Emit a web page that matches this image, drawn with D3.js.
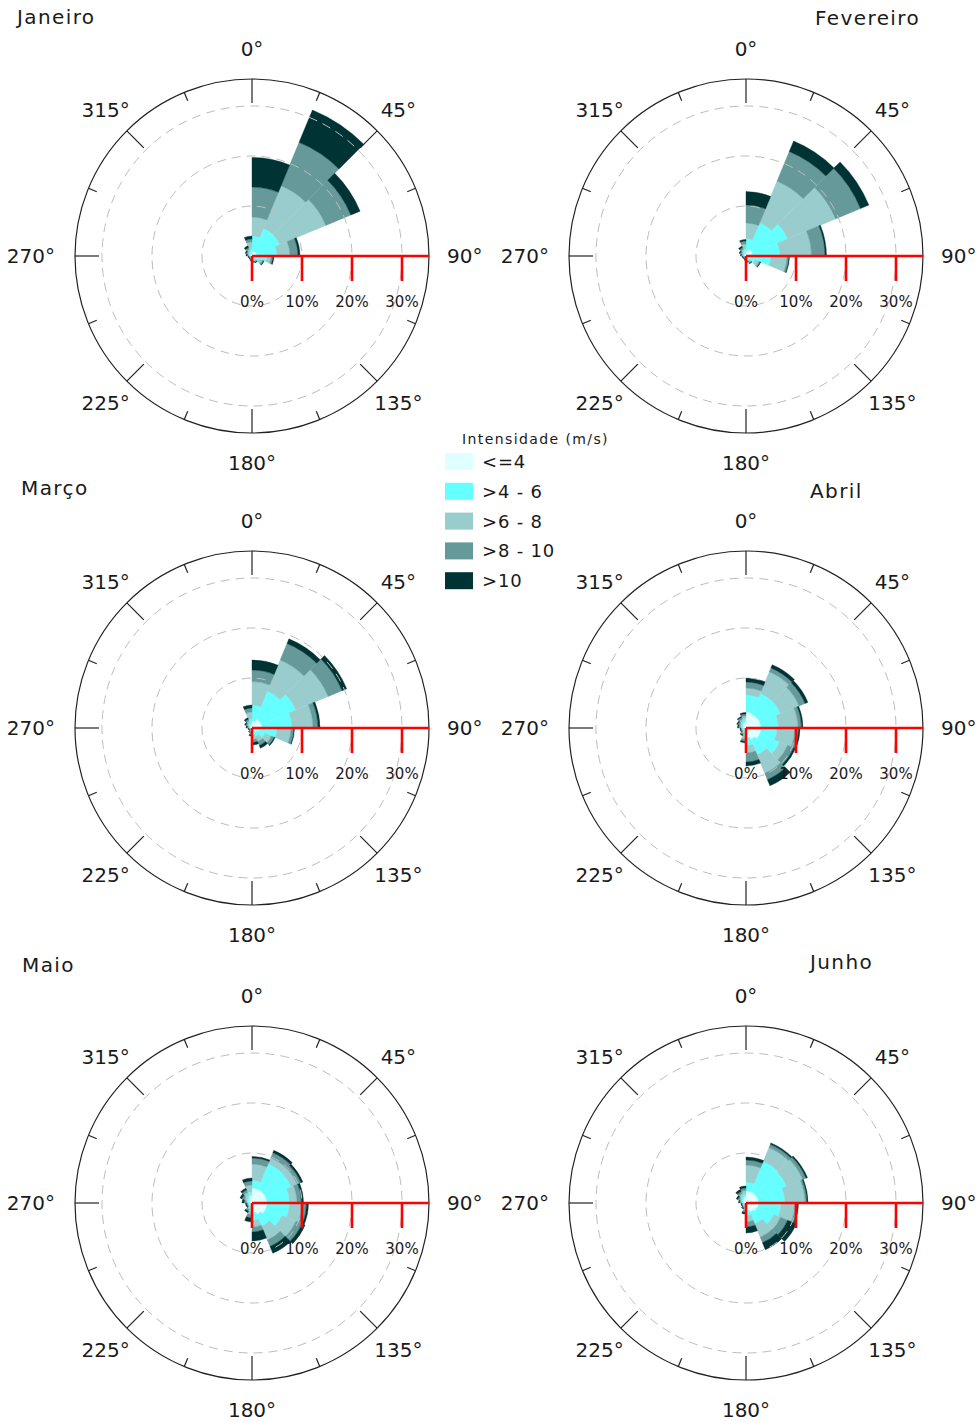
<!DOCTYPE html>
<html>
<head>
<meta charset="utf-8">
<script src="https://cdn.jsdelivr.net/npm/d3@7"></script>
<style>
  body { margin: 0; background: #fff; }
  svg { display: block; }
  text { font-family: "DejaVu Sans", Verdana, sans-serif; fill: #1a1a1a; }
</style>
</head>
<body>
<svg id="chart" width="979" height="1422"></svg>
<script>
// Wind speed classes (m/s) and their colours
const classLabels = ["<=4", ">4 - 6", ">6 - 8", ">8 - 10", ">10"];
const classColors = ["#e0ffff", "#66ffff", "#99cccc", "#669999", "#003333"];

// Direction labels (degrees) and radial frequency ticks (%)
const directionLabels = [0, 45, 90, 135, 180, 225, 270, 315];
const radialTicks = [0, 10, 20, 30];

const monthNames = ["Janeiro", "Fevereiro", "Março", "Abril", "Maio", "Junho"];

// Frequency (%) per direction sector (16 sectors of 22.5°, clockwise from north),
// one column per speed class: [<=4, >4-6, >6-8, >8-10, >10]
const janeiro = [
  [1, 3, 3.8, 6, 5.9], [1, 5, 9.2, 9.4, 7], [1, 5, 10, 5.4, 2], [1, 4, 2.6, 1.6, 0.4],
  [0.8, 2.2, 0.8, 0.4, 0.2], [0.5, 1, 0.7, 0.3, 0.1], [0.4, 0.4, 0.4, 0.2, 0.1], [0.4, 0.3, 0.3, 0.2, 0.1],
  [0.3, 0.2, 0.2, 0.2, 0.1], [0.3, 0.2, 0.1, 0.1, 0.1], [0.3, 0.1, 0.1, 0.1, 0.1], [0.3, 0.2, 0.1, 0.1, 0.1],
  [0.4, 0.2, 0.2, 0.2, 0.2], [0.4, 0.3, 0.3, 0.3, 0.2], [0.5, 0.4, 0.5, 0.4, 0.4], [0.5, 1, 1.3, 0.6, 0.6]
];
const fevereiro = [
  [1, 2.5, 3.1, 3.6, 2.7], [1.5, 5.7, 9, 6.4, 2.3], [1.5, 7.5, 10.4, 5.4, 1.8], [1.2, 5.6, 6.3, 2.7, 0.3],
  [1, 4, 3.2, 0.4, 0.1], [0.7, 1.3, 0.8, 0.3, 0.1], [0.5, 0.5, 0.4, 0.2, 0.1], [0.4, 0.3, 0.3, 0.2, 0.1],
  [0.3, 0.2, 0.2, 0.1, 0.1], [0.3, 0.1, 0.1, 0.1, 0.1], [0.3, 0.1, 0.1, 0.1, 0.1], [0.3, 0.1, 0.2, 0.1, 0.1],
  [0.4, 0.2, 0.2, 0.2, 0.1], [0.4, 0.3, 0.3, 0.3, 0.2], [0.5, 0.5, 0.4, 0.4, 0.3], [0.6, 0.8, 1, 0.6, 0.3]
];
const marco = [
  [1.5, 3.1, 4.7, 2.3, 2.0], [2, 6, 6.7, 3.6, 1.0], [2, 7.5, 7, 3, 1], [2, 6, 4.2, 1, 0.4],
  [1.5, 3.5, 2.8, 0.6, 0.1], [1, 1.8, 1.4, 0.6, 0.2], [0.8, 1, 1.2, 0.8, 0.6], [0.7, 0.7, 0.9, 0.6, 0.5],
  [0.5, 0.3, 0.3, 0.3, 0.2], [0.4, 0.2, 0.2, 0.1, 0.1], [0.3, 0.1, 0.1, 0.1, 0.1], [0.3, 0.2, 0.1, 0.1, 0.1],
  [0.4, 0.2, 0.2, 0.2, 0.2], [0.5, 0.3, 0.3, 0.3, 0.2], [0.6, 0.4, 0.5, 0.4, 0.3], [0.8, 1, 1.4, 0.8, 0.6]
];
const abril = [
  [3.2, 3.4, 1.4, 1.2, 0.8], [3, 4.5, 4.7, 0.8, 0.7], [3, 4.5, 4, 1.3, 0.6], [3, 3.5, 3.9, 0.7, 0.3],
  [3, 3.2, 3.6, 0.7, 0.3], [3, 4.3, 1.7, 1.3, 0.4], [2.5, 3.3, 4, 1.4, 1.3], [2, 1.5, 1.5, 1.8, 0.8],
  [1, 0.6, 0.6, 0.5, 0.3], [0.6, 0.3, 0.3, 0.3, 0.2], [0.5, 0.2, 0.2, 0.2, 0.1], [0.5, 0.2, 0.2, 0.2, 0.1],
  [0.6, 0.3, 0.3, 0.3, 0.2], [0.7, 0.3, 0.4, 0.4, 0.2], [0.9, 0.5, 0.5, 0.4, 0.2], [1.2, 0.6, 0.6, 0.4, 0.3]
];
const maio = [
  [3, 1.5, 3.3, 1.2, 0.3], [3, 5.5, 1.3, 1.1, 0.5], [3, 5.5, 1.3, 0.8, 0.4], [3, 4.5, 1.5, 0.9, 0.4],
  [3, 4.5, 2.5, 0.9, 0.4], [3, 3.5, 3, 1.3, 0.7], [2.5, 2.5, 3, 1.4, 1.5], [2, 1.5, 1.3, 1, 1.8],
  [1, 0.6, 0.7, 0.7, 0.8], [0.7, 0.3, 0.4, 0.4, 0.3], [0.5, 0.2, 0.2, 0.2, 0.2], [0.5, 0.2, 0.2, 0.2, 0.2],
  [0.6, 0.3, 0.3, 0.4, 0.4], [0.8, 0.4, 0.5, 0.5, 0.4], [1, 0.6, 0.7, 0.5, 0.4], [1.5, 0.7, 1.4, 0.8, 0.6]
];
const junho = [
  [2.4, 1.8, 3.4, 1, 0.6], [2.5, 6.5, 3, 0.7, 0.3], [2.5, 6.3, 3.5, 0.7, 0.3], [2.5, 5.3, 4, 0.4, 0.2],
  [2.5, 4.5, 2.8, 0.5, 0.2], [2.3, 3.7, 1.5, 1.5, 1.9], [2, 2.5, 2.9, 1.2, 1.5], [1.5, 1, 1.3, 1, 1.2],
  [0.8, 0.4, 0.4, 0.3, 0.3], [0.5, 0.2, 0.2, 0.2, 0.2], [0.4, 0.2, 0.2, 0.1, 0.1], [0.4, 0.2, 0.2, 0.1, 0.1],
  [0.5, 0.3, 0.3, 0.2, 0.2], [0.7, 0.3, 0.4, 0.4, 0.3], [0.9, 0.5, 0.6, 0.5, 0.4], [1.2, 0.6, 0.7, 0.5, 0.4]
];
const monthData = [janeiro, fevereiro, marco, abril, maio, junho];

// Panel layout: rose centres and title placement
const panels = [
  { cx: 252, cy: 256, tx: 17,  ty: 24 },
  { cx: 746, cy: 256, tx: 815, ty: 25 },
  { cx: 252, cy: 728, tx: 21,  ty: 495 },
  { cx: 746, cy: 728, tx: 810, ty: 498 },
  { cx: 252, cy: 1203, tx: 22, ty: 972 },
  { cx: 746, cy: 1203, tx: 810, ty: 969 }
];

const svg = d3.select("#chart");
const R = 177;
const r = d3.scaleLinear().domain([0, 35.4]).range([0, R]);
const nSectors = 16;
const sectorAngle = 2 * Math.PI / nSectors;
const arc = d3.arc();
const stack = d3.stack().keys(d3.range(classLabels.length));
const rad = deg => deg * Math.PI / 180;

panels.forEach((p, m) => {
  // Month title
  svg.append("text")
    .attr("x", p.tx).attr("y", p.ty)
    .attr("font-size", 20).attr("letter-spacing", 1.4)
    .text(monthNames[m]);

  const g = svg.append("g").attr("transform", `translate(${p.cx},${p.cy})`);

  // Stacked sectors, one layer per speed class
  const series = stack(monthData[m]);
  series.forEach((layer, k) => {
    g.append("g").selectAll("path")
      .data(layer)
      .join("path")
      .attr("d", (d, i) => arc({
        innerRadius: r(d[0]), outerRadius: r(d[1]),
        startAngle: i * sectorAngle, endAngle: (i + 1) * sectorAngle
      }))
      .attr("fill", classColors[k])
      .attr("stroke", classColors[k])
      .attr("stroke-width", 0.4);
  });

  // Dashed frequency rings
  g.append("g").selectAll("circle")
    .data(radialTicks.filter(t => t > 0))
    .join("circle")
    .attr("r", d => r(d))
    .attr("fill", "none")
    .attr("stroke", "#bdbdbd")
    .attr("stroke-width", 1)
    .attr("stroke-dasharray", "9,6");

  // Outer circle
  g.append("circle").attr("r", R).attr("fill", "none").attr("stroke", "#222").attr("stroke-width", 1.2);

  // Direction ticks every 22.5°, longer on the 45° marks
  g.append("g").selectAll("line")
    .data(d3.range(nSectors))
    .join("line")
    .attr("x1", i => Math.sin(i * sectorAngle) * R)
    .attr("y1", i => -Math.cos(i * sectorAngle) * R)
    .attr("x2", i => Math.sin(i * sectorAngle) * (R - (i % 2 === 0 ? 24 : 9)))
    .attr("y2", i => -Math.cos(i * sectorAngle) * (R - (i % 2 === 0 ? 24 : 9)))
    .attr("stroke", "#222").attr("stroke-width", 1.2);

  // Direction labels
  g.append("g").selectAll("text")
    .data(directionLabels)
    .join("text")
    .attr("font-size", 20)
    .attr("text-anchor", d => d === 90 ? "start" : d === 270 ? "end" : "middle")
    .attr("dy", "0.36em")
    .attr("x", d => d === 90 ? 195 : d === 270 ? -197 : Math.sin(rad(d)) * 207)
    .attr("y", d => (d === 90 || d === 270) ? 0 : -Math.cos(rad(d)) * 207)
    .text(d => d + "°");

  // Red frequency axis along 90°
  const axis = g.append("g");
  axis.append("line")
    .attr("x1", 0).attr("y1", 0).attr("x2", R).attr("y2", 0)
    .attr("stroke", "#ff0000").attr("stroke-width", 2.6);
  axis.selectAll("line.tick")
    .data(radialTicks)
    .join("line")
    .attr("class", "tick")
    .attr("x1", d => r(d)).attr("x2", d => r(d))
    .attr("y1", 0).attr("y2", 25)
    .attr("stroke", "#ff0000").attr("stroke-width", 2.6);
  axis.selectAll("text")
    .data(radialTicks)
    .join("text")
    .attr("x", d => r(d)).attr("y", 46)
    .attr("dy", "0.36em")
    .attr("text-anchor", "middle")
    .attr("font-size", 15)
    .text(d => d + "%");
});

// Legend
const legend = svg.append("g");
legend.append("text")
  .attr("x", 462).attr("y", 444)
  .attr("font-size", 14).attr("letter-spacing", 1.4)
  .text("Intensidade (m/s)");
const rows = legend.selectAll("g.row")
  .data(classLabels)
  .join("g")
  .attr("class", "row")
  .attr("transform", (d, i) => `translate(445,${453 + i * 29.8})`);
rows.append("rect")
  .attr("width", 28).attr("height", 17)
  .attr("fill", (d, i) => classColors[i]);
rows.append("text")
  .attr("x", 37).attr("y", 15)
  .attr("font-size", 18).attr("letter-spacing", 0.8)
  .text(d => d);
</script>
</body>
</html>
